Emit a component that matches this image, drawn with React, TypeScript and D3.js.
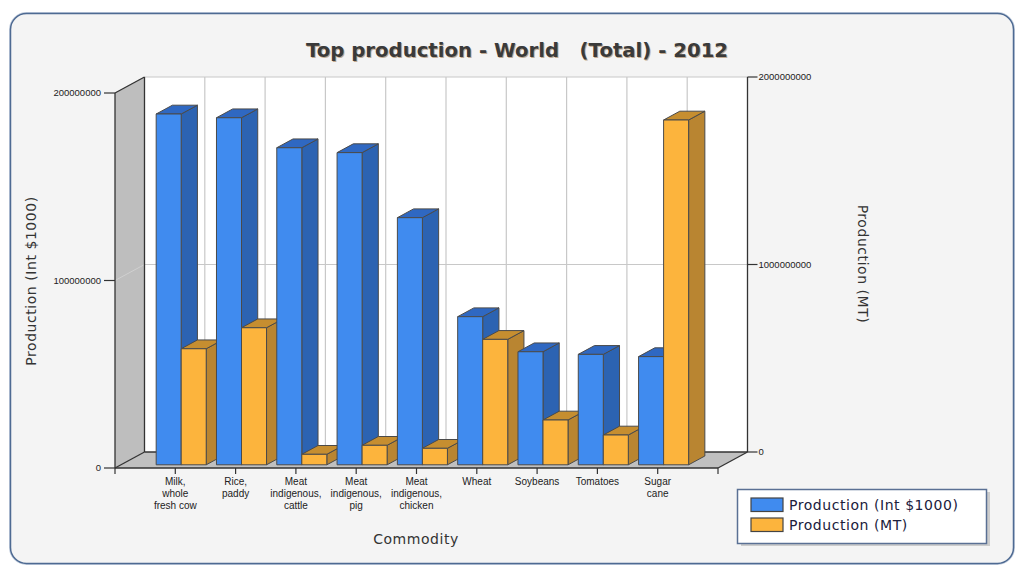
import React from "react";
import * as d3 from "d3";

const categories: string[][] = [
  ["Milk,", "whole", "fresh cow"],
  ["Rice,", "paddy"],
  ["Meat", "indigenous,", "cattle"],
  ["Meat", "indigenous,", "pig"],
  ["Meat", "indigenous,", "chicken"],
  ["Wheat"],
  ["Soybeans"],
  ["Tomatoes"],
  ["Sugar", "cane"],
];
const valueIntUSD: number[] = [187.1e6, 185.1e6, 169.1e6, 166.5e6, 131.8e6, 79.0e6, 60.3e6, 58.9e6, 57.7e6];
const productionMT: number[] = [619e6, 731e6, 56e6, 104e6, 88e6, 669e6, 239e6, 159e6, 1839e6];
const leftTicks: number[] = [0, 100000000, 200000000];
const rightTicks: number[] = [0, 1000000000, 2000000000];
const seriesNames: string[] = ["Production (Int $1000)", "Production (MT)"];
const title = "Top production - World   (Total) - 2012";

const DX = 29.5;
const DY = -16;
const Z0 = 0.2;
const Z1 = 0.75;
const BW = 0.415;

const blue = { front: "#408bef", side: "#2c63b2", top: "#2f68c2" };
const orange = { front: "#fcb43d", side: "#b98531", top: "#c68e30" };
const edge = "#4a4a4a";

const pts = (p: [number, number][]) => p.map((q) => q.join(",")).join(" ");

export default function App() {
  const xs = d3.scaleLinear().domain([0, 10]).range([115, 718]);
  const yL = d3.scaleLinear().domain([0, 200e6]).range([468, 93]);
  const yR = d3.scaleLinear().domain([0, 2000e6]).range([468, 93]);

  const fdx = DX * Z0;
  const fdy = DY * Z0;
  const ddx = DX * (Z1 - Z0);
  const ddy = DY * (Z1 - Z0);

  const bar = (l: number, r: number, top: number, bot: number, c: typeof blue, key: string) => (
    <g key={key} stroke={edge} strokeWidth={1} strokeLinejoin="round">
      <polygon points={pts([[r, top], [r + ddx, top + ddy], [r + ddx, bot + ddy], [r, bot]])} fill={c.side} />
      <polygon points={pts([[l, top], [r, top], [r + ddx, top + ddy], [l + ddx, top + ddy]])} fill={c.top} />
      <rect x={l} y={top} width={r - l} height={bot - top} fill={c.front} />
    </g>
  );

  const x0 = xs(0), x10 = xs(10);
  const yb = yL(0), yt = yL(200e6);
  const lbl = { fontSize: 14, letterSpacing: 0.55 };

  return (
    <svg width={1017} height={567} style={{ position: "absolute", left: 0, top: 0 }} fontFamily="'DejaVu Sans', Verdana, sans-serif">
      <rect x={0} y={0} width={1017} height={567} fill="#ffffff" />
      <rect x={10.5} y={13.5} width={1003} height={550} rx={16} ry={16} fill="#f4f4f4" stroke="#8aa0c0" strokeWidth={3} opacity={0.5} />
      <rect x={10.5} y={13.5} width={1003} height={550} rx={16} ry={16} fill="#f4f4f4" stroke="#4e6a92" strokeWidth={1.5} />

      {/* title */}
      <text x={517} y={57} textAnchor="middle" fontSize={19.7} fontWeight="bold" fill="#a07a50" opacity={0.6} style={{ whiteSpace: "pre" }} transform="translate(1,1)">{title}</text>
      <text x={517} y={57} textAnchor="middle" fontSize={19.7} fontWeight="bold" fill="#3a3a3a" style={{ whiteSpace: "pre" }}>{title}</text>

      {/* walls */}
      <polygon points={pts([[x0 + DX, yt + DY], [x10 + DX, yt + DY], [x10 + DX, yb + DY], [x0 + DX, yb + DY]])} fill="#ffffff" />
      <polygon points={pts([[x0, yt], [x0 + DX, yt + DY], [x0 + DX, yb + DY], [x0, yb]])} fill="#bebebe" />
      <polygon points={pts([[x0, yb], [x0 + DX, yb + DY], [x10 + DX, yb + DY], [x10, yb]])} fill="#c0c0c0" />

      {/* grid lines */}
      {d3.range(1, 10).map((k) => (
        <line key={"vg" + k} x1={xs(k) + DX} x2={xs(k) + DX} y1={yt + DY} y2={yb + DY} stroke="#c8c8c8" strokeWidth={1.2} />
      ))}
      {leftTicks.filter((t) => t > 0).map((t) => (
        <g key={"hg" + t}>
          <line x1={x0 + DX} x2={x10 + DX} y1={yL(t) + DY} y2={yL(t) + DY} stroke="#c8c8c8" strokeWidth={1.2} />
          <line x1={x0} x2={x0 + DX} y1={yL(t)} y2={yL(t) + DY} stroke="#d0d0d0" strokeWidth={1} />
        </g>
      ))}

      {/* wall edges */}
      <g stroke="#333" strokeWidth={1.3} fill="none">
        <line x1={x0} x2={x0} y1={yt} y2={yb} />
        <line x1={x0} x2={x0 + DX} y1={yt} y2={yt + DY} />
        <line x1={x0} x2={x0 + DX} y1={yb} y2={yb + DY} />
        <line x1={x0 + DX} x2={x0 + DX} y1={yt + DY} y2={yb + DY} />
        <line x1={x0 + DX} x2={x10 + DX} y1={yb + DY} y2={yb + DY} />
        <line x1={x0} x2={x10} y1={yb} y2={yb} />
        <line x1={x10} x2={x10 + DX} y1={yb} y2={yb + DY} />
        <line x1={x10 + DX} x2={x10 + DX} y1={yt + DY} y2={yb + DY} />
      </g>

      {/* bars */}
      {categories.map((_, i) => {
        const cx = xs(i + 1);
        const bw = xs(BW) - xs(0);
        const bot = yL(0) + fdy;
        return (
          <g key={"b" + i}>
            {bar(cx - bw + fdx, cx + fdx, yL(valueIntUSD[i]) + fdy, bot, blue, "bl")}
            {bar(cx + fdx, cx + bw + fdx, yR(productionMT[i]) + fdy, bot, orange, "or")}
          </g>
        );
      })}

      {/* left axis ticks */}
      {leftTicks.map((t) => (
        <g key={"lt" + t}>
          <line x1={x0 - 11} x2={x0} y1={yL(t)} y2={yL(t)} stroke="#333" strokeWidth={1.2} />
          <text x={x0 - 14} y={yL(t)} dy="0.35em" textAnchor="end" fontSize={9.5} fontFamily="'Liberation Sans', Arial, sans-serif" fill="#222">{t}</text>
        </g>
      ))}
      {/* right axis ticks */}
      {rightTicks.map((t) => (
        <g key={"rt" + t}>
          <line x1={x10 + DX} x2={x10 + DX + 10} y1={yR(t) + DY} y2={yR(t) + DY} stroke="#333" strokeWidth={1.2} />
          <text x={x10 + DX + 11} y={yR(t) + DY} dy="0.35em" textAnchor="start" fontSize={9.5} fontFamily="'Liberation Sans', Arial, sans-serif" fill="#222">{t}</text>
        </g>
      ))}
      {/* x ticks */}
      {d3.range(0, 11).map((k) => (
        <line key={"xt" + k} x1={xs(k)} x2={xs(k)} y1={yb} y2={yb + 6} stroke="#333" strokeWidth={1.2} />
      ))}
      {categories.map((lines, i) => (
        <text key={"cl" + i} x={xs(i + 1)} y={481} textAnchor="middle" fontSize={10} fontFamily="'Liberation Sans', Arial, sans-serif" fill="#222">
          {lines.map((ln, j) => (
            <tspan key={j} x={xs(i + 1)} y={481 + j * 12} dy="0.35em">{ln}</tspan>
          ))}
        </text>
      ))}

      {/* axis titles */}
      <text transform="translate(36,281) rotate(-90)" textAnchor="middle" {...lbl} fill="#333">Production (Int $1000)</text>
      <text transform="translate(858,264) rotate(90)" textAnchor="middle" {...lbl} fill="#333">Production (MT)</text>
      <text x={416} y={544} textAnchor="middle" {...lbl} fill="#333">Commodity</text>

      {/* legend */}
      <rect x={741} y={492} width={249} height={54} fill="#b0b0b0" opacity={0.6} />
      <rect x={737.5} y={489.5} width={249} height={54} fill="#ffffff" stroke="#5a7094" strokeWidth={1.5} />
      {seriesNames.map((s, i) => (
        <g key={"lg" + i}>
          <rect x={751} y={498 + i * 20} width={32} height={13.5} fill={i === 0 ? blue.front : orange.front} stroke="#444" strokeWidth={1.2} />
          <text x={789} y={509.5 + i * 20} {...lbl} fill="#20203c">{s}</text>
        </g>
      ))}
    </svg>
  );
}
